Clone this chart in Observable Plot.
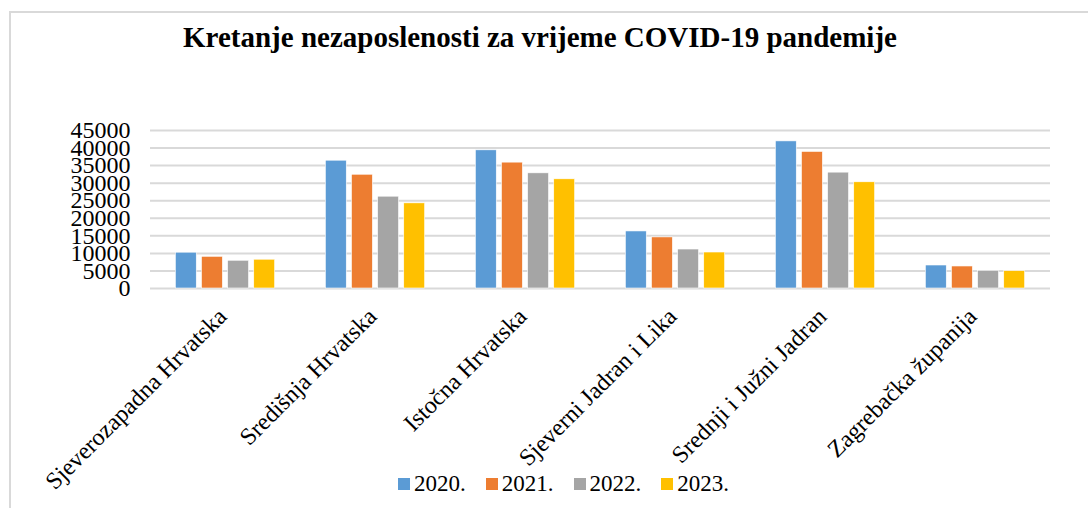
<!DOCTYPE html>
<html>
<head>
<meta charset="utf-8">
<script src="https://cdn.jsdelivr.net/npm/d3@7"></script>
<script src="https://cdn.jsdelivr.net/npm/@observablehq/plot@0.6"></script>
<style>
  html, body { margin: 0; padding: 0; background: #fff; }
  #wrap { position: relative; width: 1088px; height: 508px; overflow: hidden; font-family: "Liberation Serif", "Times New Roman", serif; }
  #frame { position: absolute; left: 9px; top: 11px; width: 1200px; height: 600px; border: 2px solid #d9d9d9; box-sizing: border-box; }
  #title { position: absolute; left: 0; top: 21px; width: 1080px; text-align: center; font-weight: bold; font-size: 29px; color: #000; font-family: "Liberation Serif", serif; }
  #chart { position: absolute; left: 0; top: 0; }
  #legend { position: absolute; left: 398px; top: 471px; display: flex; align-items: center; font-size: 23px; color: #000; font-family: "Liberation Serif", serif; }
  .item { display: flex; align-items: center; margin-right: 20px; }
  .item span { font-family: "Liberation Serif", serif; }
  .sw { width: 12px; height: 12px; margin-right: 4px; }
  svg.plot text { font-family: "Liberation Serif", serif !important; }
</style>
</head>
<body>
<div id="wrap">
  <div id="frame"></div>
  <div id="chart"></div>
  <div id="title">Kretanje nezaposlenosti za vrijeme COVID-19 pandemije</div>
  <div id="legend"></div>
</div>
<script>
const regions = ["Sjeverozapadna Hrvatska", "Središnja Hrvatska", "Istočna Hrvatska", "Sjeverni Jadran i Lika", "Srednji i Južni Jadran", "Zagrebačka županija"];
const years = ["2020.", "2021.", "2022.", "2023."];
const v2020 = [10200, 36400, 39350, 16250, 41900, 6550];
const v2021 = [9030, 32400, 35850, 14550, 38900, 6270];
const v2022 = [7900, 26150, 32800, 11100, 33000, 5050];
const v2023 = [8200, 24250, 31100, 10250, 30250, 4950];
const yTicks = [0, 5000, 10000, 15000, 20000, 25000, 30000, 35000, 40000, 45000];
const colors = ["#5b9bd5", "#ed7d31", "#a5a5a5", "#ffc000"];

const series = [v2020, v2021, v2022, v2023];
const data = [];
regions.forEach((r, i) => years.forEach((y, j) => data.push({region: r, year: y, value: series[j][i]})));

const plot = Plot.plot({
  width: 1088,
  height: 508,
  marginLeft: 147,
  marginRight: 36,
  marginTop: 130,
  marginBottom: 220,
  style: 'font-family: "Liberation Serif", serif; font-size: 23px; color: #000; background: transparent;',
  fx: {domain: regions, padding: 0, label: null},
  x: {domain: years, paddingInner: 0.2, paddingOuter: 0.97, round: false, axis: null},
  y: {domain: [0, 45000], label: null},
  color: {domain: years, range: colors},
  marks: [
    Plot.ruleY(yTicks, {stroke: "#d9d9d9", strokeWidth: 2, fx: null}),
    Plot.barY(data, {fx: "region", x: "year", y: "value", fill: "year", stroke: "#fff", strokeWidth: 0.6}),
    Plot.axisY(yTicks, {tickSize: 0, tickPadding: 20, tickFormat: d3.format("d"), fontSize: 24, label: null}),
    Plot.axisFx({anchor: "bottom", tickSize: 0, tickPadding: 24, tickRotate: -45, fontSize: 24, dx: -3, label: null})
  ]
});
document.getElementById("chart").appendChild(plot);

const legend = document.getElementById("legend");
years.forEach((y, j) => {
  const it = document.createElement("div");
  it.className = "item";
  const sw = document.createElement("div");
  sw.className = "sw";
  sw.style.background = colors[j];
  const t = document.createElement("span");
  t.textContent = y;
  it.appendChild(sw);
  it.appendChild(t);
  legend.appendChild(it);
});
</script>
</body>
</html>
